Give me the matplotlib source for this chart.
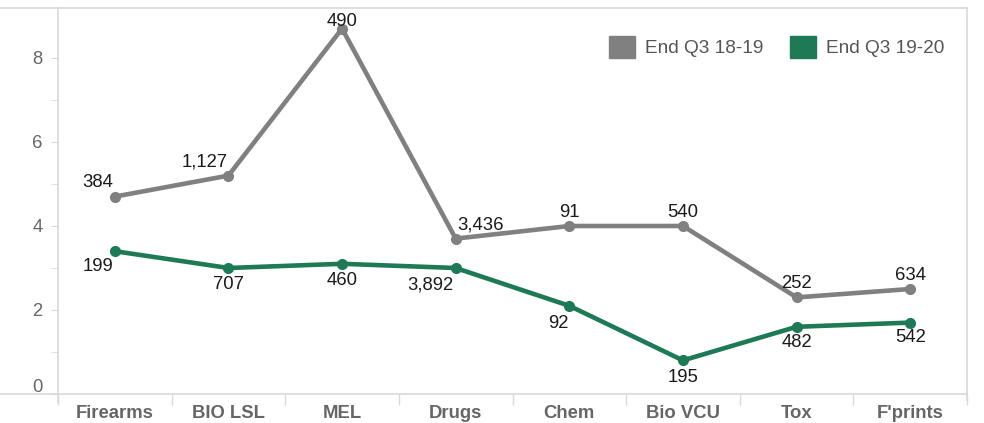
import matplotlib
matplotlib.use("Agg")
import matplotlib.pyplot as plt
from matplotlib.lines import Line2D
from matplotlib.patches import Patch
from matplotlib.transforms import ScaledTranslation

categories = ["Firearms", "BIO LSL", "MEL", "Drugs", "Chem", "Bio VCU", "Tox", "F'prints"]
series_names = ["End Q3 18-19", "End Q3 19-20"]
values_1819 = [4.7, 5.2, 8.7, 3.7, 4.0, 4.0, 2.3, 2.5]
values_1920 = [3.4, 3.0, 3.1, 3.0, 2.1, 0.8, 1.6, 1.7]
labels_1819 = ["384", "1,127", "490", "3,436", "91", "540", "252", "634"]
labels_1920 = ["199", "707", "460", "3,892", "92", "195", "482", "542"]
yticks = [0, 2, 4, 6, 8]

plt.rcParams['font.family'] = ['Liberation Sans', 'DejaVu Sans']

W, H = 984, 423
fig = plt.figure(figsize=(W / 100, H / 100), dpi=100)
L, R, B, T = 58, 967, 394, 8
ax = fig.add_axes([L / W, (H - B) / H, (R - L) / W, (B - T) / H])

GRAY = "#808080"
GREEN = "#1e7a55"
AXC = "#d9d9d9"
TXT = "#666666"
FS = 13.3

x = list(range(len(categories)))
ax.plot(x, values_1819, color=GRAY, lw=3.3, marker="o", ms=7, zorder=3,
        solid_capstyle="round")
ax.plot(x, values_1920, color=GREEN, lw=3.3, marker="o", ms=7, zorder=3,
        solid_capstyle="round")

ax.set_xlim(-0.5, len(categories) - 0.5)
ax.set_ylim(0, (B - T) / 42.0)

# label offsets (points) and alignment
off_1819 = [(-12, 10, "center"), (-17, 10, "center"), (0, 5, "center"), (1, 10, "left"),
            (0, 10, "center"), (0, 10, "center"), (0, 10, "center"), (0, 10, "center")]
off_1920 = [(-12, -11, "center"), (0, -12, "center"), (0, -12, "center"), (-2, -12, "right"),
            (-8, -13, "center"), (0, -12, "center"), (0, -11, "center"), (0, -11, "center")]
for i, (v, lab) in enumerate(zip(values_1819, labels_1819)):
    dx, dy, ha = off_1819[i]
    ax.annotate(lab, (i, v), xytext=(dx, dy), textcoords="offset points",
                ha=ha, va="center", fontsize=FS, color="#1a1a1a", zorder=4)
for i, (v, lab) in enumerate(zip(values_1920, labels_1920)):
    dx, dy, ha = off_1920[i]
    ax.annotate(lab, (i, v), xytext=(dx, dy), textcoords="offset points",
                ha=ha, va="center", fontsize=FS, color="#1a1a1a", zorder=4)

for s in ax.spines.values():
    s.set_visible(False)

ax.set_yticks(yticks)
ax.set_yticklabels([str(t) for t in yticks], color=TXT, fontsize=FS)
ax.set_yticks([1, 3, 5, 7], minor=True)
ax.tick_params(axis="y", which="both", direction="out", length=5, color=AXC, pad=6)
# zero label sits just above the baseline
zl = ax.get_yticklabels()[0]
zl.set_transform(zl.get_transform() + ScaledTranslation(0, 9 / 100, fig.dpi_scale_trans))

ax.set_xticks(x)
ax.set_xticklabels(categories, color=TXT, fontsize=FS, fontweight="bold")
ax.tick_params(axis="x", which="major", length=0, pad=8)
ax.set_xticks([i - 0.5 for i in range(len(categories) + 1)], minor=True)
ax.tick_params(axis="x", which="minor", direction="out", length=8, color=AXC, width=1)

# frame lines
fig.add_artist(Line2D([0, R / W], [(H - T) / H] * 2, color=AXC, lw=1.2))
fig.add_artist(Line2D([0, R / W], [(H - B) / H] * 2, color=AXC, lw=1.2))
fig.add_artist(Line2D([L / W] * 2, [(H - T) / H, (H - 402) / H], color=AXC, lw=1.2))
fig.add_artist(Line2D([R / W] * 2, [(H - T) / H, (H - 400) / H], color=AXC, lw=1.2))

handles = [Patch(facecolor=GRAY, edgecolor=GRAY), Patch(facecolor=GREEN, edgecolor=GREEN)]
leg = fig.legend(handles, series_names, loc="center right",
                 bbox_to_anchor=(962 / W, (H - 47) / H), ncol=2, frameon=False,
                 prop={"size": 13.7}, handlelength=1.35, handleheight=1.35,
                 handletextpad=0.55, columnspacing=1.4)
for t in leg.get_texts():
    t.set_color("#555555")

fig.savefig("out.png", dpi=100)
